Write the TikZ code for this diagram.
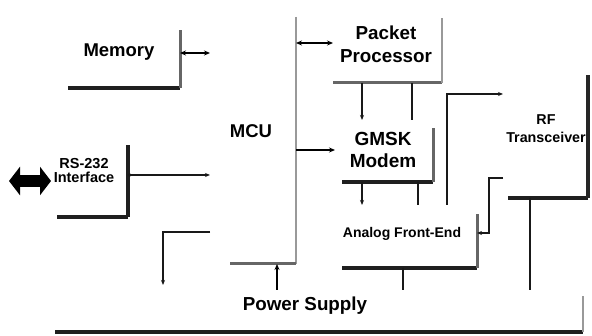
\documentclass[tikz,border=0pt]{standalone}
\usepackage{fontspec}
\setmainfont{Liberation Sans}
\usetikzlibrary{arrows.meta,calc}
\begin{document}
\begin{tikzpicture}[x=1pt,y=-1pt,
  box/.style={rectangle, inner sep=0pt, outer sep=0pt, draw=none},
  lbl/.style={inner sep=0pt, align=center},
  edgelight/.style={line width=2.5pt, color=black!40},
  edgemid/.style={line width=3pt, color=black!60},
  edgedark/.style={line width=3.2pt, color=black!88},
  wire/.style={line width=1.1pt, color=black!90},
  bus/.style={line width=1.8pt, color=black},
  tip/.style={-{Stealth[length=5pt,width=4pt]}},
  dtip/.style={{Stealth[length=6pt,width=5pt]}-{Stealth[length=6pt,width=5pt]}},
  fat/.style={line width=12pt, {Triangle[length=11pt,width=28pt]}-{Triangle[length=11pt,width=28pt]}}
]
\useasboundingbox (0,0) rectangle (592,336);

% boxes
\node[box, minimum width=112pt, minimum height=58pt]  (mem) at (124,59) {};
\node[box, minimum width=86pt,  minimum height=247pt] (mcu) at (253,140.5) {};
\node[box, minimum width=109pt, minimum height=65pt]  (pp)  at (387.5,50.5) {};
\node[box, minimum width=98pt,  minimum height=62pt]  (gm)  at (384,151) {};
\node[box, minimum width=135pt, minimum height=63pt]  (afe) at (409.5,236.5) {};
\node[box, minimum width=85pt,  minimum height=123pt] (rf)  at (545.5,136.5) {};
\node[box, minimum width=71pt,  minimum height=72pt]  (rs)  at (92.5,181) {};
\node[box, minimum width=528pt, minimum height=42pt]  (pw)  at (319,311) {};

% labels
\node[lbl, font=\bfseries\fontsize{18.5}{20}\selectfont] (memt) at (119,52) {Memory};
\node[lbl, font=\bfseries\fontsize{18.5}{20}\selectfont] (mcut) at (251,131) {MCU};
\node[lbl, font=\bfseries\fontsize{18.8}{23}\selectfont] (ppt) at (386,44) {Packet\\Processor};
\node[lbl, font=\bfseries\fontsize{19}{22}\selectfont] (gmt) at (383,150) {GMSK\\Modem};
\node[lbl, font=\bfseries\fontsize{14.3}{18}\selectfont] (rft) at (546,129) {RF\\Transceiver};
\node[lbl, font=\bfseries\fontsize{14}{16}\selectfont] (afet) at (402,234) {Analog Front-End};
\node[lbl, font=\bfseries\fontsize{14.5}{14}\selectfont] (rst) at (84,171) {RS-232\\Interface};
\node[lbl, font=\bfseries\fontsize{18.8}{20}\selectfont] (pwt) at (305,306) {Power Supply};

% shadow edges
\draw[edgedark] (mem.south west) -- (mem.south east);
\draw[edgemid]  (mem.south east) -- (mem.north east);
\draw[edgelight] (mcu.north east) -- (mcu.south east);
\draw[edgemid]  ([xshift=20pt]mcu.south west) -- (mcu.south east);
\draw[edgemid]  (pp.south west) -- (pp.south east);
\draw[edgelight] (pp.south east) -- (pp.north east);
\draw[edgedark] ([xshift=7pt]gm.south west) -- (gm.south east);
\draw[edgemid]  (gm.south east) -- ([yshift=-8pt]gm.north east);
\draw[edgedark] (afe.south west) -- (afe.south east);
\draw[edgemid]  (afe.south east) -- ([yshift=-9pt]afe.north east);
\draw[edgedark] ([xshift=5pt]rf.south west) -- (rf.south east);
\draw[line width=3.5pt, black!85] (rf.south east) -- (rf.north east);
\draw[edgedark] (rs.south west) -- (rs.south east);
\draw[edgedark] (rs.south east) -- (rs.north east);
\draw[edgedark] (pw.south west) -- (pw.south east);
\draw[edgelight] (pw.south east) -- ([yshift=-6pt]pw.north east);

% connectors
\coordinate (ext) at (9,181);
\draw[fat, shorten >=6pt] (ext) -- (rs.west);
\draw[bus, dtip] ([yshift=6pt]mem.east) -- ([yshift=6pt]mem.east -| mcu.west);
\draw[wire, {Circle[length=3.5pt]}-{Stealth[length=5pt,width=4pt]}] ([yshift=6pt]rs.east) -- ([yshift=6pt]rs.east -| mcu.west);
\draw[bus, dtip] ([yshift=7.5pt]pp.west -| mcu.east) -- ([yshift=7.5pt]pp.west);
\draw[bus, -{Stealth[length=6pt,width=5pt]}] ([yshift=1pt]gm.west -| mcu.east) -- ([yshift=1pt]gm.west);
\draw[wire, tip] ([xshift=-22pt]gm.north |- pp.south) -- ([xshift=-22pt]gm.north);
\draw[wire] ([xshift=28pt]gm.north) -- ([xshift=28pt]gm.north |- pp.south);
\draw[wire, tip] ([xshift=-22pt]gm.south) -- ([xshift=-22pt]gm.south |- afe.north);
\draw[wire] ([xshift=34pt]gm.south |- afe.north) -- ([xshift=34pt]gm.south);
\draw[wire, tip] ([xshift=37.5pt]afe.north) |- ([yshift=42.5pt]rf.west);
\draw[wire, tip] ([yshift=-41.5pt]rf.west) -- ++(-14,0) |- ([yshift=3.5pt]afe.east);
\draw[wire] ([xshift=-6.5pt]afe.south) -- ([xshift=-6.5pt]afe.south |- pw.north);
\draw[wire] ([xshift=-15.5pt]rf.south) -- ([xshift=-15.5pt]rf.south |- pw.north);
\draw[bus, -{Stealth[length=6pt,width=5pt]}] ([xshift=24pt]mcu.south |- pw.north) -- ([xshift=24pt]mcu.south);
\draw[wire, tip, shorten >=5pt] ([yshift=-91.5pt]mcu.west) -| ([xshift=-156pt]pw.north);
\end{tikzpicture}
\end{document}
